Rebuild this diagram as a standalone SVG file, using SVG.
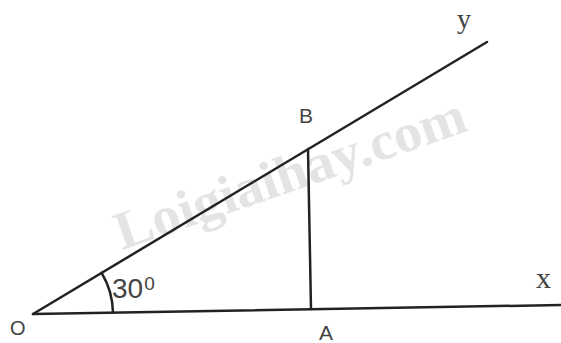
<svg xmlns="http://www.w3.org/2000/svg" width="561" height="343" viewBox="0 0 561 343">
<style>
.ln{stroke:#222;stroke-width:2.5;fill:none;stroke-linecap:round}
.lbl{font-family:"Liberation Sans",Arial,sans-serif;fill:#444}
.ser{font-family:"Liberation Serif","Times New Roman",serif;fill:#444}
.wm{font-family:"Liberation Serif","Times New Roman",serif;font-weight:bold;fill:#e4e4e4}
</style>
<rect width="561" height="343" fill="#fff"/>
<text class="wm" font-size="54" transform="translate(122,250) rotate(-19)" textLength="368" lengthAdjust="spacingAndGlyphs">Loigiaihay.com</text>
<g id="connectors">
<line id="ray-Ox" class="ln" x1="33" y1="314" x2="561" y2="305"/>
<line id="ray-Oy" class="ln" x1="33" y1="314" x2="487" y2="42"/>
<line id="seg-BA" class="ln" x1="308" y1="149" x2="311" y2="309"/>
<path id="angle-arc" class="ln" stroke-width="2" d="M113,312.6 A80,80 0 0 0 101.6,272.9"/>
</g>
<g id="node-O"><text class="lbl" x="10" y="335" font-size="20">O</text></g>
<g id="node-B"><text class="lbl" x="299" y="123" font-size="21">B</text></g>
<g id="node-A"><text class="lbl" x="319" y="340" font-size="21">A</text></g>
<g id="node-x"><text class="ser" x="536" y="288" font-size="30">x</text></g>
<g id="node-y"><text class="ser" x="457" y="28" font-size="28">y</text></g>
<g id="angle-label"><text class="lbl" x="112" y="298" font-size="28">30<tspan font-size="19" dy="-8" dx="1">0</tspan></text></g>
</svg>
